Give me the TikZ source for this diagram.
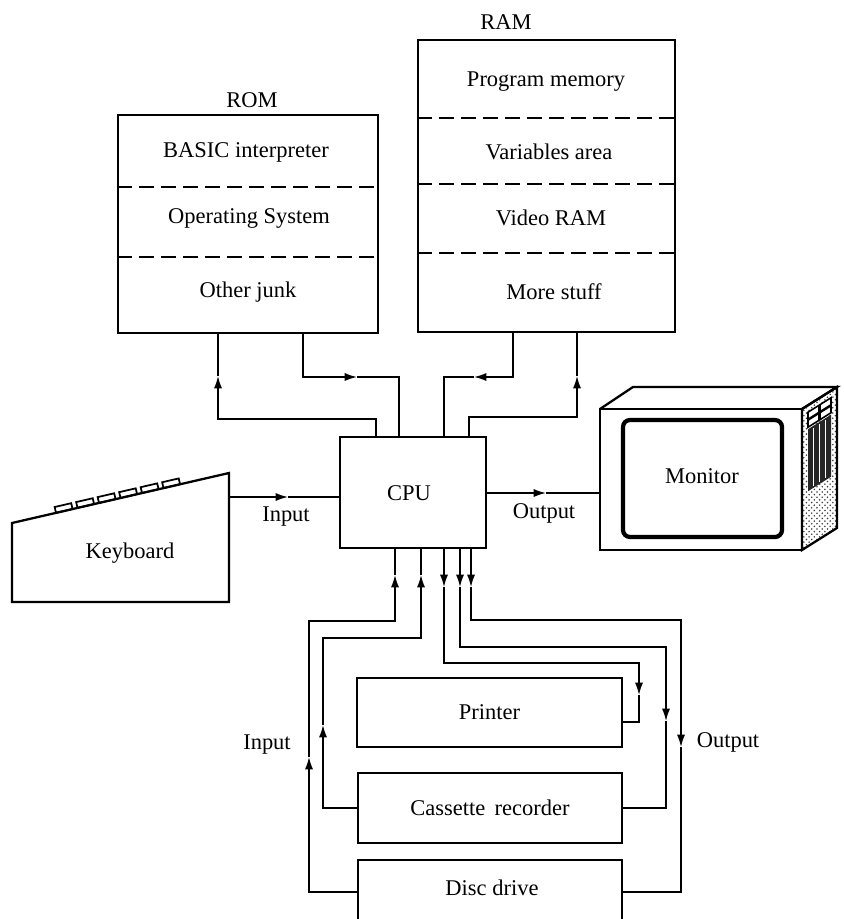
\documentclass[tikz,border=0pt]{standalone}
\usepackage{fontspec}
\setmainfont{Liberation Serif}
\usetikzlibrary{arrows.meta,patterns}

\begin{document}
\begin{tikzpicture}[x=0.02cm, y=-0.02cm, >={Latex[length=7pt,width=4.6pt]},
		font=\fontsize{12.8}{15}\selectfont,
		box/.style={draw, line width=1.4pt, inner sep=0pt},
		bus/.style={line width=0.85pt},
		sep/.style={line width=1.1pt, dash pattern=on 0.3cm off 0.14cm}]
		\clip (0,0) rectangle (844,919);
		% memory blocks
		\node[box, minimum width=5.2cm, minimum height=4.36cm] (rom) at (248,224) {};
		\node (romlbl) at (252,100) {ROM};
		\node (basic) at (246,152) {BASIC interpreter};
		\node (os) at (249,218) {Operating System};
		\node (junk) at (248,292) {Other junk};
		\draw[sep] (rom.west |- 0,187) -- (rom.east |- 0,187);
		\draw[sep] (rom.west |- 0,257) -- (rom.east |- 0,257);
		\node[box, minimum width=5.14cm, minimum height=5.84cm] (ram) at (546.5,186) {};
		\node (ramlbl) at (506,22) {RAM};
		\node (prog) at (546,82) {Program memory};
		\node (vars) at (549,152) {Variables area};
		\node (vram) at (551,218) {Video RAM};
		\node (more) at (554,292) {More stuff};
		\draw[sep] (ram.west |- 0,118) -- (ram.east |- 0,118);
		\draw[sep] (ram.west |- 0,184) -- (ram.east |- 0,184);
		\draw[sep] (ram.west |- 0,253) -- (ram.east |- 0,253);
		% processor and peripherals
		\node[box, minimum width=2.92cm, minimum height=2.22cm] (cpu) at (413,492.5) {};
		\node (cpulbl) at (409,493) {CPU};
		\node[box, minimum width=5.3cm, minimum height=1.38cm] (prn) at (489.5,712.5) {Printer};
		\node[box, minimum width=5.28cm, minimum height=1.4cm] (cas) at (490,808) {Cassette\, recorder};
		\node[box, minimum width=5.28cm, minimum height=1.28cm] (disc) at (490,892) {};
		\node (disclbl) at (492,888) {Disc drive};
		% keyboard
		\draw[line width=1.3pt] (12,602) -- (12,523) -- (229,473) -- (229,602) -- cycle;
		\foreach \k in {0,...,5} {
			\pgfmathsetmacro{\kx}{56+21.5*\k}
			\pgfmathsetmacro{\ky}{523-(\kx-12)*0.2304}
			\draw[line width=1pt, shift={(\kx,\ky)}, rotate=13] (0,0) rectangle (17,-6);
		}
		\node (kbd) at (130,553) {Keyboard};
		\coordinate (kbdout) at (229,497);
		% monitor
		\draw[line width=1.3pt] (600,409) rectangle (802,550);
		\draw[line width=1.3pt] (600,409) -- (633,387) -- (837,387) -- (802,409);
		\begin{scope}[shift={(802,409)}, yslant=0.63]
			\draw[line width=1.3pt, pattern=crosshatch dots, pattern color=black!75] (0,0) rectangle (35,141);
			\fill[black!85] (6,24) rectangle (29,86);
			\foreach \sx in {11.5,17.5,23.5}
				\draw[white, line width=0.5pt] (\sx,26) -- (\sx,84);
			\foreach \sx in {6,18}
				\foreach \sy in {7,15}
					\draw[fill=white, line width=0.9pt] (\sx,\sy) rectangle ++(11,7);
		\end{scope}
		\draw[line width=2.4pt, rounded corners=4pt] (623,420) rectangle (782,537);
		\node (mon) at (702,476) {Monitor};
		\coordinate (monin) at (600,493);
		% ROM and RAM buses
		\draw[bus, ->] (cpu.north -| 376,0) |- (218,419) -- (218,376);
		\draw[bus] (218,376) -- (rom.south -| 218,0);
		\draw[bus, ->] (rom.south -| 303,0) |- (357,377);
		\draw[bus] (357,377) -| (cpu.north -| 399,0);
		\draw[bus, ->] (ram.south -| 513,0) |- (474,377);
		\draw[bus] (474,377) -| (cpu.north -| 444,0);
		\draw[bus, ->] (cpu.north -| 469,0) |- (577,417) -- (577,376);
		\draw[bus] (577,376) -- (ram.south -| 577,0);
		% keyboard in, monitor out
		\draw[bus, ->] (kbdout) -- (288,497);
		\draw[bus] (288,497) -- (cpu.west |- kbdout);
		\node (inlbl) at (286,517) {Input};
		\draw[bus, ->] (cpu.east |- monin) -- (546,493);
		\draw[bus] (546,493) -- (monin);
		\node (outlbl) at (544,513) {Output};
		% lines to the peripherals below
		\draw[bus, ->] (disc.west |- 0,892) -| (309,757);
		\draw[bus, ->] (309,757) |- (395,621) -- (395,575);
		\draw[bus] (395,575) -- (cpu.south -| 395,0);
		\draw[bus, ->] (cas.west) -| (323,725);
		\draw[bus, ->] (323,725) |- (421,638) -- (421,575);
		\draw[bus] (421,575) -- (cpu.south -| 421,0);
		\draw[bus, ->] (cpu.south -| 444,0) -- (444,587);
		\draw[bus, ->] (444,587) |- (639,663) -- (639,695);
		\draw[bus] (639,695) |- (prn.east |- 0,722);
		\draw[bus, ->] (cpu.south -| 460,0) -- (460,587);
		\draw[bus, ->] (460,587) |- (666,647) -- (666,721);
		\draw[bus] (666,721) |- (cas.east);
		\draw[bus, ->] (cpu.south -| 471,0) -- (471,587);
		\draw[bus, ->] (471,587) |- (681,620) -- (681,747);
		\draw[bus] (681,747) |- (disc.east |- 0,892);
		\node (inlbl2) at (267,745) {Input};
		\node (outlbl2) at (728,742) {Output};
	\end{tikzpicture}
\end{document}
